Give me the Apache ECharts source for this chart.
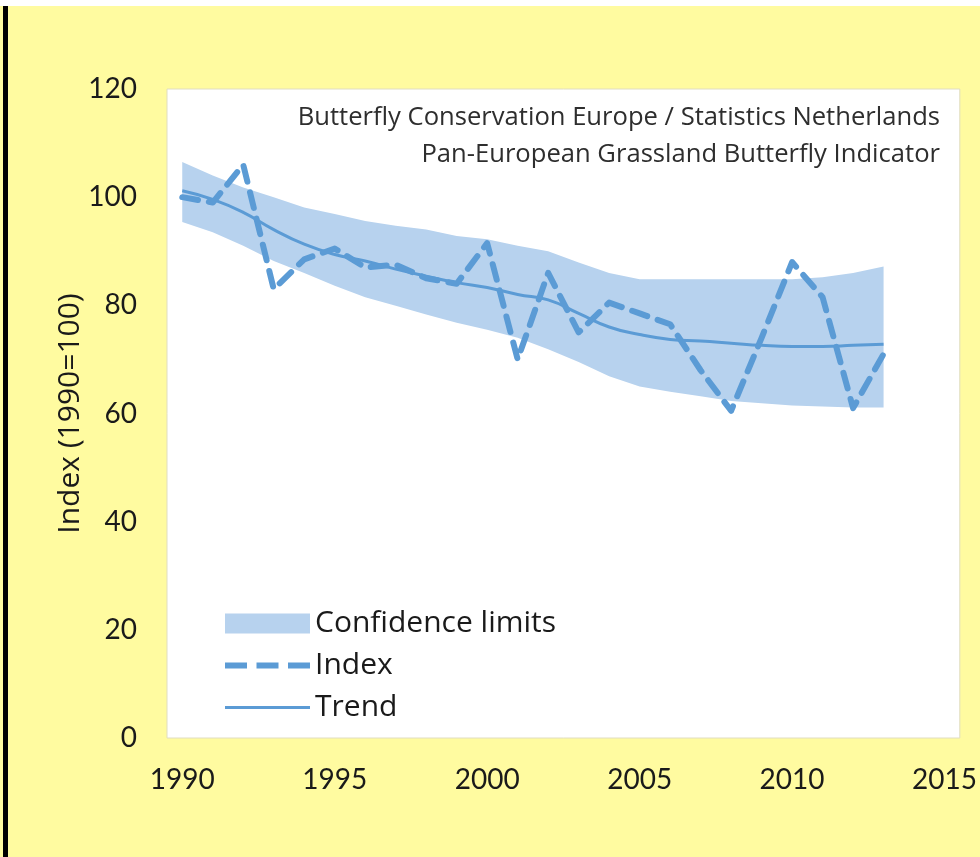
<!DOCTYPE html>
<html lang="en">
<head>
    <meta charset="utf-8">
    <title>Grassland Butterfly Indicator</title>
    <script src="https://cdn.jsdelivr.net/npm/echarts@6/dist/echarts.min.js"></script>
    <style>
        html, body { margin: 0; padding: 0; background: #fffba0; }
        #main { width: 980px; height: 857px; }
    </style>
</head>
<body>
<div id="main"></div>
<script type="text/javascript">
    // years on the x axis (one slot per year)
    var years = ['1990','1991','1992','1993','1994','1995','1996','1997','1998','1999',
                 '2000','2001','2002','2003','2004','2005','2006','2007','2008','2009',
                 '2010','2011','2012','2013','2014','2015'];
    // yearly index, 1990 = 100
    var indexValues = [100, 99, 106, 83, 88.5, 90.5, 87, 87.5, 85, 84,
                       91.5, 70, 86, 75, 80.5, 78.5, 76.5, 68, 60.5, 74,
                       88, 81.5, 61, 71];
    // smoothed trend
    var trendValues = [101.2, 99.6, 97.2, 94, 91.3, 89.4, 88.2, 86.7, 85.4, 84.2,
                       83.3, 82, 81, 78.5, 76, 74.6, 73.7, 73.4, 73, 72.6,
                       72.4, 72.4, 72.6, 72.8];
    // confidence limits
    var upperLimit = [106.5, 104, 101.8, 100, 98.1, 96.9, 95.6, 94.7, 94, 92.8,
                      92.2, 91, 90, 87.9, 86, 84.8, 84.8, 84.8, 84.8, 84.8,
                      84.8, 85.2, 86, 87.2];
    var lowerLimit = [95.4, 93.5, 91, 88.2, 86, 83.6, 81.5, 79.9, 78.3, 76.8,
                      75.5, 74, 71.9, 69.5, 66.9, 65, 64, 63.2, 62.3, 61.9,
                      61.5, 61.3, 61.1, 61.1];
    var yTicks = [0, 20, 40, 60, 80, 100, 120];

    var blue = '#5b9bd5';
    var band = '#b7d2ee';

    var bandWidth = upperLimit.map(function (v, i) { return +(v - lowerLimit[i]).toFixed(2); });

    var chart = echarts.init(document.getElementById('main'));
    var option = {
        backgroundColor: '#fffba0',
        animation: false,
        textStyle: { fontFamily: 'Lato' },
        grid: {
            left: 167, right: 18, top: 89, bottom: 119,
            show: true, backgroundColor: '#ffffff', borderColor: '#e0ddc0', borderWidth: 1
        },
        graphic: [
            { type: 'rect', shape: { x: 0, y: 0, width: 980, height: 6 }, style: { fill: '#ffffff' } },
            { type: 'rect', shape: { x: 3, y: 6, width: 5, height: 851 }, style: { fill: '#000000' } },
            {
                type: 'text', x: 940, y: 105,
                style: { text: 'Butterfly Conservation Europe / Statistics Netherlands', align: 'right',
                         font: '25.6px "Open Sans"', fill: '#2e2e2e' }
            },
            {
                type: 'text', x: 940, y: 142,
                style: { text: 'Pan-European Grassland Butterfly Indicator', align: 'right',
                         font: '25.6px "Open Sans"', fill: '#2e2e2e' }
            }
        ],
        legend: {
            orient: 'vertical',
            left: 220,
            top: 603,
            itemWidth: 85,
            itemHeight: 20,
            itemGap: 11,
            textStyle: { fontSize: 30, color: '#1a1a1a', fontFamily: 'Open Sans', lineHeight: 31 },
            data: [
                { name: 'Confidence limits', icon: 'rect' },
                { name: 'Index', icon: 'path://M0,0h22v6h-22z M31.5,0h22v6h-22z M63,0h22v6h-22z' },
                { name: 'Trend', icon: 'path://M0,0h85v3h-85z' }
            ]
        },
        xAxis: {
            type: 'category',
            data: years,
            boundaryGap: true,
            axisLine: { show: false },
            axisTick: { show: false },
            axisLabel: { interval: 4, fontSize: 28, color: '#1a1a1a', margin: 28 }
        },
        yAxis: {
            type: 'value',
            min: yTicks[0],
            max: yTicks[yTicks.length - 1],
            interval: 20,
            name: 'Index (1990=100)',
            nameLocation: 'middle',
            nameGap: 82,
            nameMoveOverlap: false,
            nameTextStyle: { fontSize: 30, color: '#1a1a1a', fontFamily: 'Open Sans' },
            splitLine: { show: false },
            axisLine: { show: false },
            axisTick: { show: false },
            axisLabel: { fontSize: 28, color: '#1a1a1a', margin: 30 }
        },
        series: [
            {
                name: 'lower',
                type: 'line',
                stack: 'ci',
                data: lowerLimit,
                symbol: 'none',
                lineStyle: { opacity: 0 },
                areaStyle: { opacity: 0 },
                silent: true
            },
            {
                name: 'Confidence limits',
                type: 'line',
                stack: 'ci',
                data: bandWidth,
                symbol: 'none',
                itemStyle: { color: band },
                lineStyle: { opacity: 0 },
                areaStyle: { color: band, opacity: 1 }
            },
            {
                name: 'Trend',
                type: 'line',
                data: trendValues,
                symbol: 'none',
                smooth: true,
                itemStyle: { color: blue },
                lineStyle: { color: blue, width: 3 }
            },
            {
                name: 'Index',
                type: 'line',
                data: indexValues,
                symbol: 'none',
                itemStyle: { color: blue },
                lineStyle: { color: blue, width: 6, type: [16, 11], cap: 'round', join: 'round' }
            }
        ]
    };
    chart.setOption(option);
</script>
</body>
</html>
